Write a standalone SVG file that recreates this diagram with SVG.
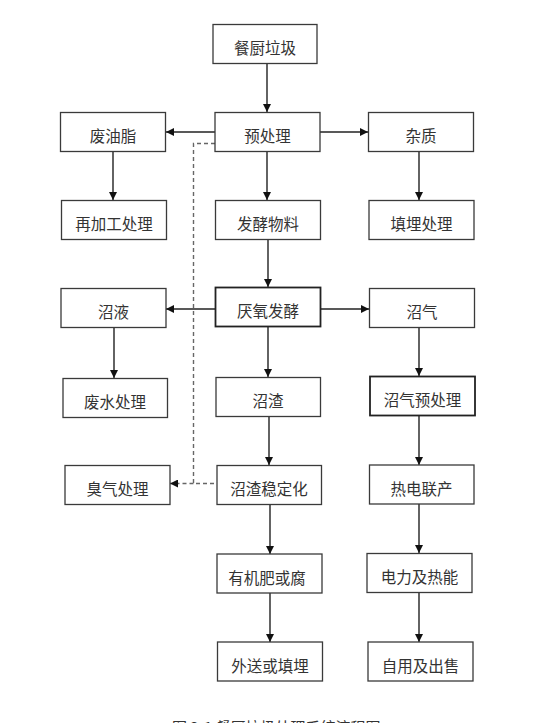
<svg xmlns="http://www.w3.org/2000/svg" width="554" height="723" viewBox="0 0 554 723">
<style>
.box{fill:#fff;stroke:#3a3a3a;stroke-width:1.3}
.thick{fill:#fff;stroke:#222;stroke-width:1.8}
.lbl{font-family:"Noto Sans CJK SC","Noto Sans",sans-serif;font-size:15.5px;fill:#333;text-anchor:middle;dominant-baseline:central}
.ln{stroke:#222;stroke-width:1.4;fill:none}
.dash{stroke:#666;stroke-width:1.4;fill:none;stroke-dasharray:4 3}
.cap{font-family:"Noto Sans CJK SC","Noto Sans",sans-serif;font-size:15px;fill:#333}
</style>
<defs>
<marker id="ah" viewBox="0 0 10 10" refX="10" refY="5" markerWidth="8" markerHeight="8" markerUnits="userSpaceOnUse" orient="auto">
<path d="M0,0 L10,5 L0,10 z" fill="#111"/>
</marker>
</defs>
<rect width="554" height="723" fill="#fff"/>
<g id="connectors">
<line class="ln" x1="267" y1="63" x2="267" y2="112" marker-end="url(#ah)"/>
<line class="ln" x1="215" y1="132" x2="166" y2="132" marker-end="url(#ah)"/>
<line class="ln" x1="320" y1="132" x2="368" y2="132" marker-end="url(#ah)"/>
<line class="ln" x1="267" y1="151" x2="267" y2="200" marker-end="url(#ah)"/>
<line class="ln" x1="113" y1="151" x2="113" y2="200" marker-end="url(#ah)"/>
<line class="ln" x1="419" y1="151" x2="419" y2="200" marker-end="url(#ah)"/>
<line class="ln" x1="268" y1="239" x2="268" y2="287" marker-end="url(#ah)"/>
<line class="ln" x1="215" y1="309" x2="166" y2="309" marker-end="url(#ah)"/>
<line class="ln" x1="320" y1="309" x2="369" y2="309" marker-end="url(#ah)"/>
<line class="ln" x1="114" y1="327" x2="114" y2="378" marker-end="url(#ah)"/>
<line class="ln" x1="268" y1="326" x2="268" y2="377" marker-end="url(#ah)"/>
<line class="ln" x1="419" y1="327" x2="419" y2="376" marker-end="url(#ah)"/>
<line class="ln" x1="269" y1="416" x2="269" y2="465" marker-end="url(#ah)"/>
<line class="ln" x1="419" y1="415" x2="419" y2="465" marker-end="url(#ah)"/>
<line class="ln" x1="270" y1="505" x2="270" y2="554" marker-end="url(#ah)"/>
<line class="ln" x1="419" y1="504" x2="419" y2="553" marker-end="url(#ah)"/>
<line class="ln" x1="270" y1="593" x2="270" y2="642" marker-end="url(#ah)"/>
<line class="ln" x1="419" y1="593" x2="419" y2="642" marker-end="url(#ah)"/>
<polyline class="dash" points="215,143.5 193.5,143.5 193.5,483.5 217,483.5"/>
<line class="dash" x1="193.5" y1="483.5" x2="170" y2="483.5" marker-end="url(#ah)"/>
</g>
<g id="n1"><rect class="box" x="213" y="24.5" width="104" height="39"/><text class="lbl" x="265" y="47">餐厨垃圾</text></g>
<g id="n2"><rect class="box" x="215" y="112.5" width="105" height="39"/><text class="lbl" x="267.5" y="135">预处理</text></g>
<g id="n3"><rect class="box" x="60.5" y="112.5" width="105" height="39"/><text class="lbl" x="113" y="135">废油脂</text></g>
<g id="n4"><rect class="box" x="368.5" y="112.5" width="105" height="39"/><text class="lbl" x="421" y="135">杂质</text></g>
<g id="n5"><rect class="box" x="61.5" y="200.5" width="105" height="39"/><text class="lbl" x="114" y="223">再加工处理</text></g>
<g id="n6"><rect class="box" x="215.5" y="200.5" width="105" height="39"/><text class="lbl" x="268" y="223">发酵物料</text></g>
<g id="n7"><rect class="box" x="369" y="200.5" width="105" height="39"/><text class="lbl" x="421.5" y="223">填埋处理</text></g>
<g id="n8"><rect class="box" x="61" y="288.5" width="105" height="39"/><text class="lbl" x="113.5" y="311">沼液</text></g>
<g id="n9"><rect class="thick" x="215.5" y="287.5" width="105" height="39"/><text class="lbl" x="268" y="310">厌氧发酵</text></g>
<g id="n10"><rect class="box" x="369.5" y="288.5" width="105" height="39"/><text class="lbl" x="422" y="311">沼气</text></g>
<g id="n11"><rect class="box" x="63" y="378.5" width="104.5" height="39"/><text class="lbl" x="115" y="401">废水处理</text></g>
<g id="n12"><rect class="box" x="216" y="377.5" width="104.5" height="39"/><text class="lbl" x="268" y="400">沼渣</text></g>
<g id="n13"><rect class="thick" x="370" y="376.5" width="105" height="39"/><text class="lbl" x="422.5" y="399">沼气预处理</text></g>
<g id="n14"><rect class="box" x="65" y="465.5" width="105" height="39"/><text class="lbl" x="117.5" y="488">臭气处理</text></g>
<g id="n15"><rect class="box" x="217" y="465.5" width="104.5" height="39"/><text class="lbl" x="269" y="488">沼渣稳定化</text></g>
<g id="n16"><rect class="box" x="369.5" y="465" width="104.5" height="39"/><text class="lbl" x="421.5" y="488">热电联产</text></g>
<g id="n17"><rect class="box" x="217" y="554" width="105" height="39"/><text class="lbl" x="267" y="577">有机肥或腐</text></g>
<g id="n18"><rect class="box" x="367" y="553.5" width="105" height="39"/><text class="lbl" x="419.5" y="576">电力及热能</text></g>
<g id="n19"><rect class="box" x="217.5" y="642" width="105" height="39"/><text class="lbl" x="270" y="665">外送或填埋</text></g>
<g id="n20"><rect class="box" x="368" y="642" width="105" height="39"/><text class="lbl" x="420.5" y="665">自用及出售</text></g>
<text class="cap" x="172" y="733">图 3-1 餐厨垃圾处理系统流程图</text>
</svg>
